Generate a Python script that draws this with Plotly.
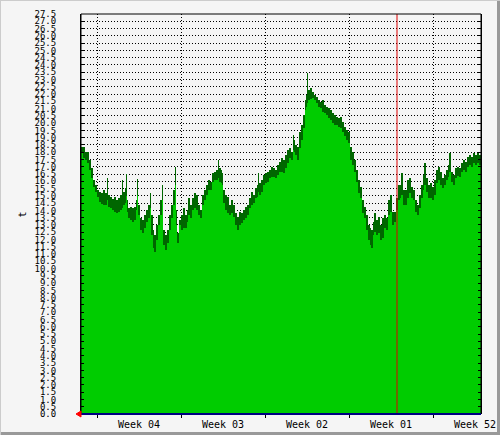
import plotly.graph_objects as go

# time in hours from the left edge of the graph
hours = [0,4,8,12,16,20,24,28,32,36,40,44,48,52,54,58,62,66,70,74,78,82,84,88,90,92,94,98,102,106,110,112,114,118,122,126,130,134,138,140,144,146,150,154,158,162,164,168,172,176,180,184,188,190,192,196,
         200,204,208,212,214,218,222,226,230,234,238,242,246,250,254,258,262,266,270,274,276,280,282,284,288,292,296,300,304,308,312,316,320,324,328,332,336,340,344,348,352,354,356,360,364,368,372,376,380,384,388,392,396,
         400,404,408,412,416,420,424,426,428,432,436,440,444,448,450,452,454,458,462,466,470,474,478,482,486,490,494,498,502,506,510,514,518,522,526,530,534,538,542,546,550,554,558,562,566,570,574,578,580,584,586,590,594,598,
         602,606,610,614,618,622,626,630,634,638,640,644,648,652,656,660,664,668,672,676,680,684,686,690,694,698,702,706,710,714,718,722,726,730,734,736,740,744,748,752,756,760,764,768,772,776,780,784,788,792,796,800]

t_max = [18.36,18.36,18.01,18.01,17.46,16.91,16.09,15.74,15.40,15.26,15.19,15.40,15.19,16.23,15.06,14.92,14.78,14.92,14.71,14.85,15.06,16.09,15.26,15.54,16.50,14.71,14.16,14.23,14.16,14.23,14.71,16.16,14.37,13.48,13.34,13.68,14.03,14.37,15.19,13.68,12.65,12.31,12.99,13.68,14.71,15.74,12.65,12.31,12.65,13.68,14.37,15.40,16.98,14.03,12.44,13.34,
         13.68,14.16,13.68,14.03,14.85,14.37,14.85,15.19,15.06,14.37,14.03,15.06,15.40,15.74,16.09,15.95,16.57,16.64,16.78,17.46,16.91,16.78,16.57,15.40,15.06,14.92,14.37,14.71,14.37,13.82,13.54,13.89,13.82,14.03,14.23,14.37,14.85,15.26,15.06,15.54,15.74,16.57,15.88,16.09,16.43,16.57,16.64,16.78,16.98,16.91,16.78,17.12,17.33,
         17.60,17.46,17.81,18.15,18.29,18.01,19.18,18.84,18.49,18.36,19.39,19.87,20.56,21.59,21.93,23.44,22.28,22.41,22.14,21.93,21.79,21.59,21.45,21.59,21.24,21.11,21.04,20.90,20.69,20.56,20.42,20.35,20.42,20.08,19.73,19.53,19.39,18.36,18.01,17.46,16.78,16.09,15.61,14.71,14.23,13.68,12.99,12.79,12.65,13.20,13.82,13.34,13.54,12.99,
         13.48,13.68,13.48,14.71,15.06,13.89,13.89,14.85,15.74,15.74,16.57,15.40,15.40,16.09,16.23,15.61,15.40,14.71,14.37,15.06,15.74,16.43,17.26,16.23,15.74,15.88,15.61,16.09,16.78,16.98,16.64,16.23,16.43,16.78,17.12,17.94,16.64,16.43,16.91,16.98,16.91,17.26,17.46,17.33,17.67,17.81,17.67,17.94,17.81,17.94,17.81,17.94]

t_avg = [18.01,17.60,17.46,17.26,16.78,16.23,15.61,15.26,14.92,14.58,14.44,14.37,14.37,14.71,14.23,14.16,14.03,13.89,13.82,13.89,14.03,14.16,14.37,14.51,14.99,13.89,13.48,13.34,13.20,13.34,14.03,15.06,13.68,12.65,12.44,12.79,13.20,13.48,14.16,12.31,11.41,11.14,11.96,12.99,13.68,14.71,11.62,11.28,11.76,12.65,13.48,14.37,15.74,12.99,11.76,12.99,
         12.65,12.79,12.79,13.20,13.68,13.48,14.03,14.16,14.03,13.68,13.48,14.37,14.71,15.06,15.40,15.40,15.95,16.09,16.09,16.23,15.95,15.88,15.74,14.51,14.03,13.82,13.68,13.82,13.54,12.99,12.65,12.99,13.13,13.34,13.48,13.68,14.16,14.37,14.51,14.85,14.92,15.26,15.06,15.26,15.74,15.88,15.95,16.23,16.29,16.29,16.23,16.43,16.64,
         16.64,16.57,16.91,17.26,17.60,17.46,18.15,18.01,17.81,17.46,18.29,18.84,19.66,20.90,21.11,21.38,21.59,21.66,21.73,21.59,21.38,21.11,21.04,20.76,20.69,20.56,20.35,20.21,20.01,19.87,19.87,19.73,19.66,19.39,19.11,18.84,18.63,17.46,17.12,16.64,15.95,15.19,14.85,13.82,13.48,12.65,11.96,11.62,11.41,12.31,12.51,12.31,12.44,11.96,
         12.10,12.79,12.65,13.68,13.89,12.99,13.20,14.03,14.71,14.85,15.06,14.37,14.37,14.85,15.19,14.85,14.71,13.89,13.68,14.16,14.85,15.40,15.74,15.26,14.85,14.85,14.71,15.06,15.88,16.09,15.74,15.54,15.74,16.09,16.29,16.64,15.95,15.74,16.23,16.36,16.29,16.64,16.78,16.64,16.98,17.12,16.98,17.26,17.12,17.26,17.12,17.26]

week_labels = ["Week 04", "Week 03", "Week 02", "Week 01", "Week 52"]
week_label_pos = [116, 284, 452, 620, 788]
first_week_line = 32
week_hours = 168
now_marker = 632
y_label = "t"

L, T, W, H = 81, 14, 400, 400
fig = go.Figure()
fig.add_trace(go.Scatter(x=hours, y=t_max, mode="lines", line=dict(width=0, shape="hv"),
                         fill="tozeroy", fillcolor="#006600", hoverinfo="skip", showlegend=False))
fig.add_trace(go.Scatter(x=hours, y=t_avg, mode="lines", line=dict(width=0, shape="hv"),
                         fill="tozeroy", fillcolor="#00CC00", hoverinfo="skip", showlegend=False))

dots = "1px,2px"
fig.update_layout(
    width=500, height=435,
    margin=dict(l=L, r=500 - L - W, t=T, b=435 - T - H, pad=0, autoexpand=False),
    paper_bgcolor="#F5F5F5", plot_bgcolor="#F5F5F5",
    font=dict(family="DejaVu Sans Mono", color="black"),
    xaxis=dict(range=[0, 800], tickvals=week_label_pos, ticktext=week_labels, ticks="",
               showgrid=False, zeroline=False, showline=False, automargin=False,
               tickfont=dict(size=10, family="DejaVu Sans Mono"), ticklabelstandoff=3,
               minor=dict(tick0=first_week_line, dtick=week_hours, showgrid=True, gridcolor="black",
                          griddash=dots, gridwidth=1, ticks="outside", ticklen=3, tickcolor="black")),
    yaxis=dict(range=[0, 27.5], dtick=0.5, tick0=0, tickformat=".1f", showgrid=True, automargin=False,
               gridcolor="black", griddash=dots, gridwidth=1, zeroline=False,
               ticks="inside", ticklen=3, tickcolor="black", showline=True, linecolor="black",
               mirror="ticks", tickfont=dict(size=9, family="DejaVu Sans Mono"),
               ticklabelstandoff=22),
    showlegend=False,
)

# red "now" line
fig.add_shape(type="line", xref="x", yref="paper", x0=now_marker, x1=now_marker, y0=0, y1=1,
              line=dict(color="#DD0000", width=1))
# frame of the plot
fig.add_shape(type="line", xref="paper", yref="paper", x0=0, x1=1, y0=1, y1=1, line=dict(color="black", width=1))
fig.add_shape(type="line", xref="paper", yref="paper", x0=1, x1=1, y0=0, y1=1, line=dict(color="black", width=1))
fig.add_shape(type="line", xref="paper", yref="paper", x0=0, x1=0, y0=0, y1=1, line=dict(color="black", width=1))
fig.add_shape(type="line", xref="paper", yref="paper", x0=0, x1=1, y0=0, y1=0, line=dict(color="#000080", width=2))
# red arrow at origin
fig.add_shape(type="path", xref="paper", yref="paper",
              path="M 0 0.0075 L -0.0125 0 L 0 -0.0075 Z", fillcolor="#FF0000", line=dict(color="#FF0000", width=1))
# image border (3D look)
fig.add_shape(type="line", xref="paper", yref="paper", x0=(498.5 - L) / W, x1=(498.5 - L) / W,
              y0=(T + H - 435) / H, y1=(T + H) / H, line=dict(color="#999999", width=3))
fig.add_shape(type="line", xref="paper", yref="paper", x0=-L / W, x1=(500 - L) / W,
              y0=(T + H - 433.5) / H, y1=(T + H - 433.5) / H, line=dict(color="#999999", width=3))
fig.add_shape(type="line", xref="paper", yref="paper", x0=-L / W, x1=(500 - L) / W,
              y0=(T + H - 0.5) / H, y1=(T + H - 0.5) / H, line=dict(color="#CCCCCC", width=1))
fig.add_shape(type="line", xref="paper", yref="paper", x0=(0.5 - L) / W, x1=(0.5 - L) / W,
              y0=(T + H - 435) / H, y1=(T + H) / H, line=dict(color="#CCCCCC", width=1))

fig.add_annotation(text=y_label, xref="paper", yref="paper", x=(15 - L) / W, y=(T + H - 215) / H,
                   textangle=-90, showarrow=False, font=dict(size=10, family="DejaVu Sans Mono"))

fig.write_html("out.html", config={"displayModeBar": False, "staticPlot": True},
               post_script="document.body.style.margin='0';document.body.style.padding='0';"
                           "document.body.style.overflow='hidden';document.body.style.background='#F5F5F5';")
